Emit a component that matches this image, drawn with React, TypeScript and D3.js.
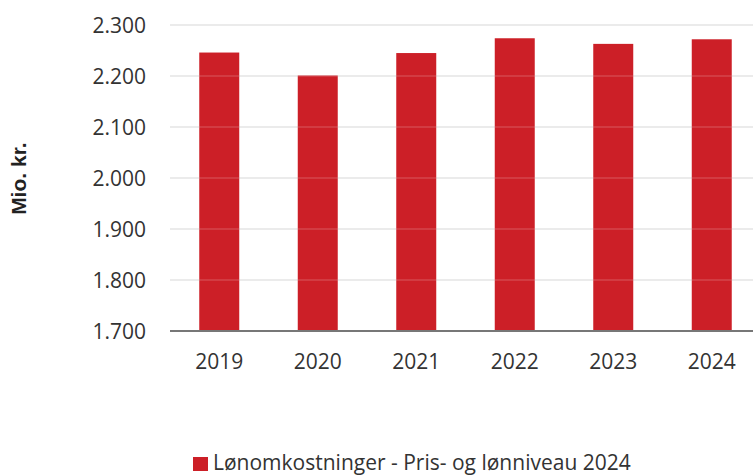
import React from "react";
import * as d3 from "d3";

const years = ["2019", "2020", "2021", "2022", "2023", "2024"];
const values = [2246, 2201, 2245, 2274, 2263, 2272];
const yTicks = [1700, 1800, 1900, 2000, 2100, 2200, 2300];
const seriesName = "Lønomkostninger - Pris- og lønniveau 2024";
const yTitle = "Mio. kr.";

const W = 753;
const H = 475;
const FONT = "'Open Sans', 'Noto Sans', sans-serif";

export default function App() {
  const x = d3.scaleBand<string>().domain(years).range([170, 761]).paddingInner(0.594).paddingOuter(0.297);
  const y = d3.scaleLinear().domain([1700, 2300]).range([331, 25]);
  const fmt = (v: number) => d3.format(",")(v).replace(/,/g, ".");
  return (
    <svg width={W} height={H} style={{ position: "absolute", left: 0, top: 0, background: "#fff" }} fontFamily={FONT}>
      {yTicks.map((t) => (
        <g key={t}>
          {t !== 1700 && <line x1={170} x2={753} y1={y(t)} y2={y(t)} stroke="#e0e0e0" strokeWidth={1.5} />}
          <text x={146} y={y(t)} dy="0.36em" textAnchor="end" fontSize={21} fill="#333">{fmt(t)}</text>
        </g>
      ))}
      {years.map((yr, i) => (
        <rect key={yr} x={x(yr)} y={y(values[i])} width={x.bandwidth()} height={y(1700) - y(values[i])} fill="#cc1f27" />
      ))}
      {yTicks.filter((t) => t !== 1700).map((t) => (
        <line key={"o" + t} x1={170} x2={753} y1={y(t)} y2={y(t)} stroke="#ffffff" strokeOpacity={0.25} strokeWidth={1} />
      ))}
      <line x1={170} x2={753} y1={y(1700)} y2={y(1700)} stroke="#777" strokeWidth={2} />
      {years.map((yr) => (
        <text key={yr} x={(x(yr) as number) + x.bandwidth() / 2} y={361} dy="0.36em" textAnchor="middle" fontSize={21} fill="#333">{yr}</text>
      ))}
      <text transform={`translate(26,178.7) rotate(-90)`} textAnchor="middle" fontSize={21} fontWeight="bold" fill="#222" fontFamily="'Liberation Sans', Arial, sans-serif">{yTitle}</text>
      <rect x={193} y={457} width={15} height={14} fill="#cc1f27" />
      <text x={213} y={470} fontSize={21} fill="#333">{seriesName}</text>
    </svg>
  );
}
